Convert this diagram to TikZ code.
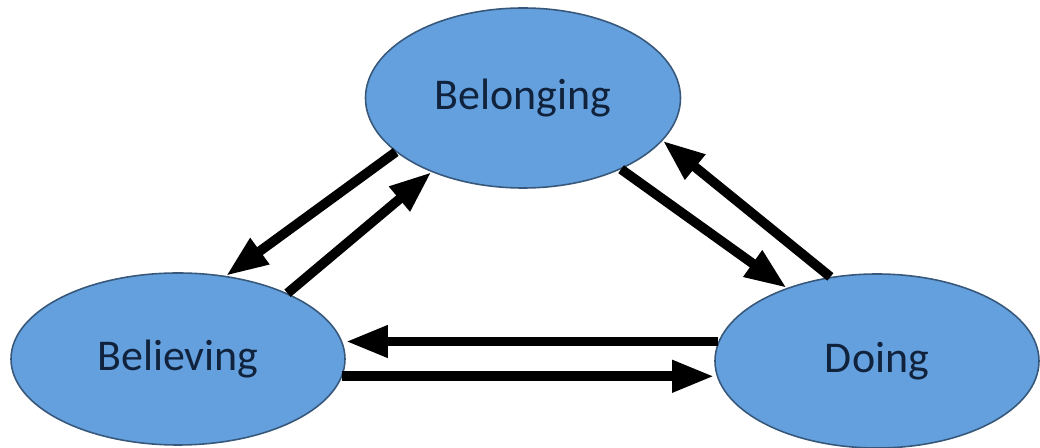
\documentclass[tikz,border=0pt]{standalone}
\usepackage{fontspec}
\setmainfont{Carlito}
\usetikzlibrary{shapes.geometric,arrows.meta}
\definecolor{bubblefill}{RGB}{100,160,221}
\definecolor{bubbleline}{RGB}{55,88,122}
\definecolor{bubbletext}{RGB}{16,34,60}
\begin{document}
\begin{tikzpicture}[
  bubble/.style={ellipse, draw=bubbleline, line width=0.9pt, fill=bubblefill, text=bubbletext, font=\fontsize{25}{30}\selectfont},
  link/.style={->, line width=5.5pt},
  >={Triangle[length=0.84cm,width=0.6cm]}
]
\useasboundingbox (0,0) rectangle (20.8,-8.96);
\node[bubble, minimum width=6.3cm, minimum height=3.6cm] (belong) at (10.46,-1.96) {Belonging};
\node[bubble, minimum width=6.68cm, minimum height=3.44cm] (believe) at (3.56,-7.18) {Believing};
\node[bubble, minimum width=6.48cm, minimum height=3.48cm] (doing) at (17.54,-7.22) {Doing};

\draw[link] (belong.203) -- (believe.60);
\draw[link] (believe.31) -- (belong.219);
\draw[link] (belong.324) -- (doing.141);
\draw[link] (doing.119) -- (belong.343);
\draw[link] (doing.173) -- (doing.173 -| believe.east);
\draw[link] (believe.354) -- (believe.354 -| doing.west);
\end{tikzpicture}
\end{document}
